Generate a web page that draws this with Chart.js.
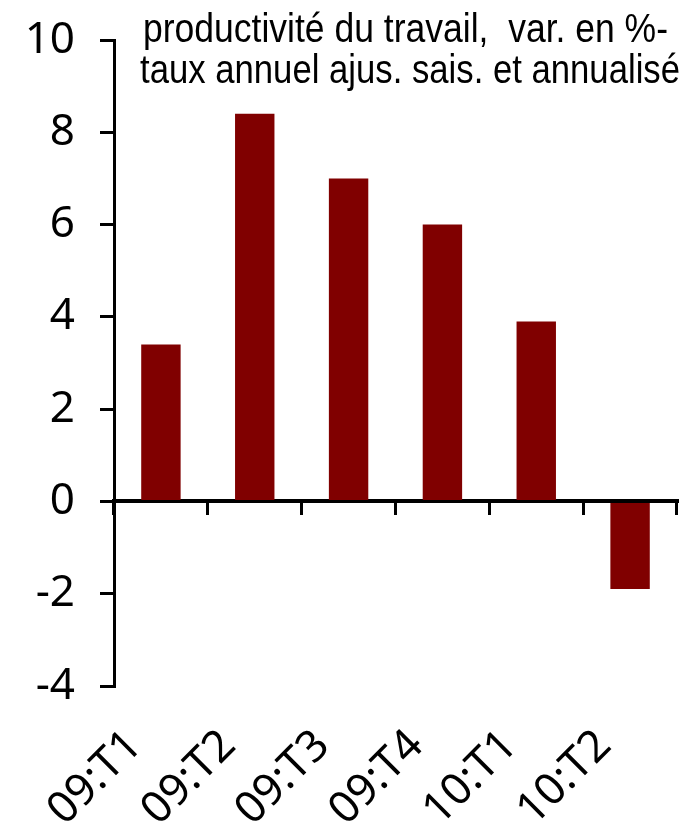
<!DOCTYPE html>
<html>
<head>
<meta charset="utf-8">
<script src="https://cdn.jsdelivr.net/npm/chart.js@4.4.0/dist/chart.umd.min.js"></script>
<style>
html, body { margin: 0; padding: 0; background: #fff; }
#grafico { display: block; }
</style>
</head>
<body>
<canvas id="grafico" width="688" height="840"></canvas>
<script>
'use strict';
// dados do grafico
const trimestres = ['09:T1', '09:T2', '09:T3', '09:T4', '10:T1', '10:T2'];
const produtividade = [3.4, 8.4, 7.0, 6.0, 3.9, -1.9];
const yTicks = [-4, -2, 0, 2, 4, 6, 8, 10];
const titulo = ['productivité du travail,  var. en %-', 'taux annuel ajus. sais. et annualisé'];

const fonteEixo = { family: '"Noto Sans", "Liberation Sans", sans-serif', size: 44 };

// titulo dentro da area do grafico, espremido na largura
const tituloPlugin = {
    id: 'tituloDentro',
    afterDraw(chart) {
        const ctx = chart.ctx;
        const linhas = [
            { txt: titulo[0], x: 143, y: 42, w: 525 },
            { txt: titulo[1], x: 140, y: 83, w: 540 }
        ];
        ctx.save();
        ctx.fillStyle = '#000';
        ctx.font = '40px "Liberation Sans Narrow", "Liberation Sans", Arial, sans-serif';
        ctx.textBaseline = 'alphabetic';
        ctx.textAlign = 'left';
        linhas.forEach(l => {
            const m = ctx.measureText(l.txt).width;
            ctx.save();
            ctx.translate(l.x, l.y);
            ctx.scale(l.w / m, 1);
            ctx.fillText(l.txt, 0, 0);
            ctx.restore();
        });
        ctx.restore();
    }
};

const ctx = document.getElementById('grafico').getContext('2d');
const grafico = new Chart(ctx, {
    type: 'bar',
    data: {
        labels: trimestres,
        datasets: [{
            data: produtividade,
            backgroundColor: '#800000',
            borderWidth: 0,
            barPercentage: 0.42,
            categoryPercentage: 1
        }]
    },
    plugins: [tituloPlugin],
    options: {
        responsive: false,
        animation: false,
        layout: { padding: { top: 40, right: 11, left: 0, bottom: 0 } },
        plugins: {
            legend: { display: false },
            tooltip: { enabled: false }
        },
        scales: {
            x: {
                type: 'category',
                position: 'bottom',
                border: { display: false },
                grid: { display: false, drawTicks: false },
                ticks: {
                    color: '#000',
                    font: fonteEixo,
                    maxRotation: 45,
                    minRotation: 45,
                    padding: 34,
                    labelOffset: -26,
                    autoSkip: false
                },
                afterFit: s => {
                    s.height = 154;
                    s.paddingLeft = 0;
                    s.paddingRight = 0;
                }
            },
            // linha do zero com as marcas entre categorias
            xZero: {
                type: 'category',
                axis: 'x',
                labels: trimestres,
                offset: true,
                position: { y: 0 },
                border: { display: true, color: '#000', width: 4 },
                grid: { offset: true, drawOnChartArea: false, drawTicks: true, tickLength: 12, lineWidth: 3, color: '#000' },
                ticks: { display: false },
                afterFit: s => {
                    s.paddingLeft = 0;
                    s.paddingRight = 0;
                }
            },
            y: {
                min: -4,
                max: 10,
                border: { display: true, color: '#000', width: 3 },
                grid: { drawOnChartArea: false, drawTicks: true, tickLength: 14, lineWidth: 3, color: '#000' },
                ticks: { color: '#000', font: fonteEixo, padding: 25 },
                afterBuildTicks: s => { s.ticks = yTicks.map(v => ({ value: v })); },
                afterFit: s => {
                    s.width = 114;
                    s.paddingTop = 0;
                    s.paddingBottom = 0;
                }
            }
        }
    }
});
</script>
</body>
</html>
